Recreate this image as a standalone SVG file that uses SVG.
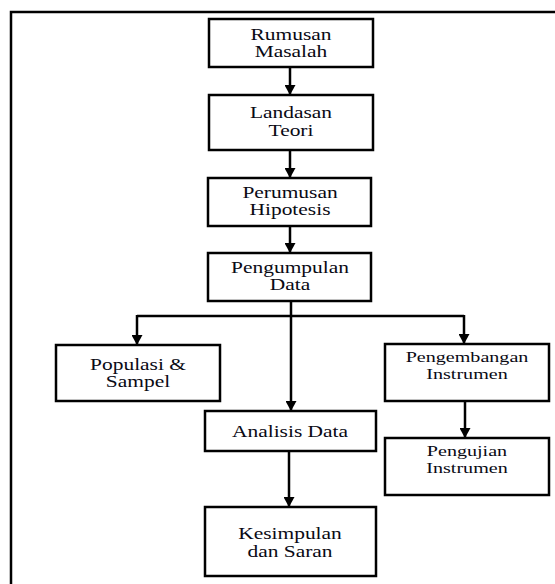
<svg xmlns="http://www.w3.org/2000/svg" width="555" height="584" viewBox="0 0 555 584">
<defs>
<marker id="ah" markerUnits="userSpaceOnUse" markerWidth="11" markerHeight="11" refX="10" refY="5.5" orient="auto" viewBox="0 0 11 11">
<path d="M0,0 L10,5.5 L0,11 z" fill="#000"/>
</marker>
<style>
.box{fill:#fff;stroke:#000;stroke-width:2.5}
.frame{fill:none;stroke:#000;stroke-width:2.5}
.con{fill:none;stroke:#000;stroke-width:2.5}
.arr{marker-end:url(#ah)}
.t{font-family:'Liberation Serif','DejaVu Serif',serif;font-size:16px;fill:#0a0a14;text-anchor:middle}
.s{font-size:15px}
</style>
</defs>
<rect width="555" height="584" fill="#fff"/>
<path class="frame" d="M11,584 V12 H555"/>
<g id="connectors">
<line class="con arr" x1="290" y1="67" x2="290" y2="95"/>
<line class="con arr" x1="290" y1="150" x2="290" y2="178"/>
<line class="con arr" x1="290" y1="226" x2="290" y2="253"/>
<line class="con arr" x1="291" y1="301" x2="291" y2="411"/>
<path class="con" d="M137,316 H464"/>
<line class="con arr" x1="137" y1="315" x2="137" y2="345"/>
<line class="con arr" x1="464" y1="315" x2="464" y2="344"/>
<line class="con arr" x1="465" y1="401" x2="465" y2="438"/>
<line class="con arr" x1="289" y1="451" x2="289" y2="507"/>
</g>
<g id="rumusan">
<rect class="box" x="209" y="19" width="164" height="48"/>
<text class="t" transform="translate(291,40) scale(1.34,1)">Rumusan</text>
<text class="t" transform="translate(291,57) scale(1.34,1)">Masalah</text>
</g>
<g id="landasan">
<rect class="box" x="209" y="95" width="164" height="55"/>
<text class="t" transform="translate(291,118) scale(1.34,1)">Landasan</text>
<text class="t" transform="translate(291,136) scale(1.34,1)">Teori</text>
</g>
<g id="perumusan">
<rect class="box" x="208" y="178" width="163" height="48"/>
<text class="t" transform="translate(290,198) scale(1.34,1)">Perumusan</text>
<text class="t" transform="translate(290,215) scale(1.34,1)">Hipotesis</text>
</g>
<g id="pengumpulan">
<rect class="box" x="208" y="253" width="163" height="48"/>
<text class="t" transform="translate(290,273) scale(1.34,1)">Pengumpulan</text>
<text class="t" transform="translate(290,290) scale(1.34,1)">Data</text>
</g>
<g id="populasi">
<rect class="box" x="56" y="345" width="164" height="56"/>
<text class="t" transform="translate(138,370) scale(1.34,1)">Populasi &amp;</text>
<text class="t" transform="translate(138,387) scale(1.34,1)">Sampel</text>
</g>
<g id="pengembangan">
<rect class="box" x="385" y="344" width="164" height="57"/>
<text class="t s" transform="translate(467,362) scale(1.34,1)">Pengembangan</text>
<text class="t s" transform="translate(467,379) scale(1.34,1)">Instrumen</text>
</g>
<g id="analisis">
<rect class="box" x="205" y="411" width="171" height="40"/>
<text class="t" transform="translate(290,437) scale(1.34,1)">Analisis Data</text>
</g>
<g id="pengujian">
<rect class="box" x="385" y="438" width="164" height="57"/>
<text class="t s" transform="translate(467,456) scale(1.34,1)">Pengujian</text>
<text class="t s" transform="translate(467,473) scale(1.34,1)">Instrumen</text>
</g>
<g id="kesimpulan">
<rect class="box" x="205" y="507" width="171" height="69"/>
<text class="t" transform="translate(290,539) scale(1.34,1)">Kesimpulan</text>
<text class="t" transform="translate(290,557) scale(1.34,1)">dan Saran</text>
</g>
</svg>
